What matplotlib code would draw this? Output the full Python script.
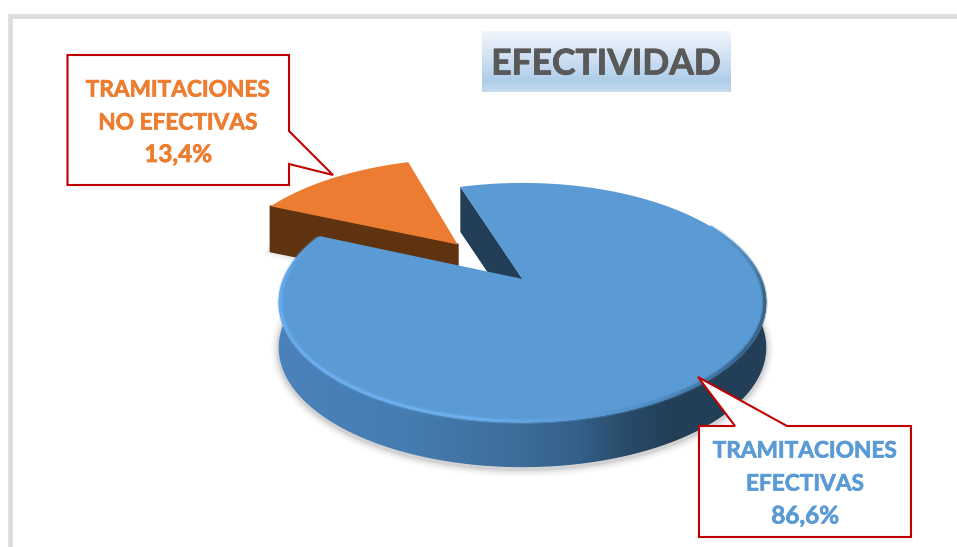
import numpy as np
import matplotlib
matplotlib.use('Agg')
import matplotlib.pyplot as plt
import matplotlib.patheffects as pe
from matplotlib.collections import LineCollection
from matplotlib.colors import LinearSegmentedColormap
from matplotlib.patches import Polygon

categories = ['TRAMITACIONES\nEFECTIVAS', 'TRAMITACIONES\nNO EFECTIVAS']
values = [86.6, 13.4]
title = 'EFECTIVIDAD'

plt.rcParams['font.family'] = ['Lato', 'DejaVu Sans']

# pie geometry, in pixels of the picture
apex_x, apex_y = 522.5, 279
size_x, size_y = 239, 115
persp = 0.197
depth = 45
start = -18
explode = 0.43


def project(theta, r=1.0, off_u=0.0, off_v=0.0):
    # clockwise angle from the top of the circle -> perspective view
    t = np.radians(theta)
    u = r * np.sin(t) + off_u
    v = r * np.cos(t) + off_v
    w = 1 + persp * v
    return np.column_stack([apex_x + size_x * u / w, apex_y - size_y * v / w])


fig = plt.figure(figsize=(9.57, 5.47), dpi=100)
ax = fig.add_axes([0, 0, 1, 1])
ax.set_xlim(0, 957)
ax.set_ylim(547, 0)
ax.axis('off')

# grey frame of the page
ax.plot([9.5, 9.5, 957], [547, 15.5, 15.5], color='#dcdcdc', lw=3.4, solid_joinstyle='miter', zorder=1)

angles = np.cumsum([0] + [v / sum(values) * 360 for v in values]) + start
blue_a = np.linspace(angles[0], angles[1], 300)
orange_a = np.linspace(angles[1], angles[2], 60)
mid = np.radians((angles[1] + angles[2]) / 2)
off_u, off_v = explode * np.sin(mid), explode * np.cos(mid)

blue_edge = project(blue_a)
orange_edge = project(orange_a, off_u=off_u, off_v=off_v)
blue_apex = project(np.array([0.0]), r=0.0)
orange_apex = project(np.array([0.0]), r=0.0, off_u=off_u, off_v=off_v)
drop = np.array([0, depth])

# soft shadow under the pie
wall_a = np.linspace(60, 285, 200)
low_edge = project(wall_a) + drop + np.array([0, 2])
for lw, a in zip([11, 8, 5, 2.5], [0.025, 0.035, 0.05, 0.07]):
    ax.plot(low_edge[:, 0], low_edge[:, 1], color='black', alpha=a, lw=lw, zorder=2)
orange_low = np.array([orange_edge[0] + drop, orange_edge[0] + drop + np.array([50, 12])])
for lw, a in zip([8, 4], [0.03, 0.05]):
    ax.plot(orange_low[:, 0], orange_low[:, 1], color='black', alpha=a, lw=lw, zorder=2)

# orange slice
orange_wall = np.vstack([orange_edge[0], orange_apex, orange_apex + drop, orange_edge[0] + drop])
ax.add_patch(Polygon(orange_wall, closed=True, fc='#5f3210', ec='#5f3210', lw=1.5, joinstyle='round', zorder=3))
ax.add_patch(Polygon(np.vstack([orange_apex, orange_edge]), closed=True, fc='#eb7c31', ec='none', zorder=4))

# blue slice, cut side then the rounded side with its gradient
blue_cut = np.vstack([blue_edge[0], blue_apex, blue_apex + drop, blue_edge[0] + drop])
ax.add_patch(Polygon(blue_cut, closed=True, fc='#223f57', ec='none', zorder=5))

top_arc = project(wall_a)
wall_poly = Polygon(np.vstack([top_arc, (top_arc + drop)[::-1]]), closed=True, fc='none', ec='none',
                    transform=ax.transData)
ax.add_patch(wall_poly)
wall_cmap = LinearSegmentedColormap.from_list('wall', [
    (0.0, '#4b82bb'), (0.25, '#467db2'), (0.5, '#3d6c98'),
    (0.62, '#335f88'), (0.7, '#2a4d6c'), (0.8, '#223f57'), (1.0, '#223f57')])
grad = np.linspace(0, 1, 256).reshape(1, -1)
im = ax.imshow(grad, cmap=wall_cmap, extent=[278, 767, 480, 170], aspect='auto', zorder=6)
im.set_clip_path(wall_poly)

ax.add_patch(Polygon(np.vstack([blue_apex, blue_edge]), closed=True, fc='#5b9bd5', ec='none', zorder=7))

# bevel along the rim, a wide faint pass then a narrow one
rim_a = np.linspace(60, angles[1] - 1, 260)
rim = project(rim_a, r=0.994)
segs = np.stack([rim[:-1], rim[1:]], axis=1)
rim_cmap = LinearSegmentedColormap.from_list('rim', [
    (0.0, '#5b9bd5'), (0.08, '#4f86b8'), (0.16, '#38607f'), (0.28, '#35608a'), (0.4, '#4f8cc4'),
    (0.56, '#6db0f0'), (0.88, '#68acee'), (1.0, '#5b9bd5')])
for lw, a in [(4.0, 0.35), (2.0, 1.0)]:
    lc = LineCollection(segs, cmap=rim_cmap, lw=lw, alpha=a, zorder=8)
    lc.set_array(np.linspace(0, 1, len(segs)))
    ax.add_collection(lc)

# title with its gradient box
title_cmap = LinearSegmentedColormap.from_list('title', [
    (0.0, '#f1f6fc'), (0.45, '#cfe0f2'), (0.82, '#aecde9'), (1.0, '#c6dbef')])
ax.imshow(np.linspace(0, 1, 128).reshape(-1, 1), cmap=title_cmap, extent=[482, 731, 92, 31],
          aspect='auto', zorder=9)
ax.set_xlim(0, 957)
ax.set_ylim(547, 0)
ax.text(606, 64.5, title, color='#595959', fontsize=25.5, fontweight='bold', ha='center', va='center', zorder=10,
        path_effects=[pe.withStroke(linewidth=0.6, foreground='#595959')])

# callouts
box_orange = [(67.5, 55), (289, 55), (289, 131), (333, 175), (289, 164), (289, 185), (67.5, 185)]
box_blue = [(699, 426), (735, 426), (698, 377), (787, 426), (911, 426), (911, 537), (699, 537)]
for pts in [box_orange, box_blue]:
    ax.add_patch(Polygon(pts, closed=True, fc='white', ec='#c00000', lw=1.5, joinstyle='miter', zorder=11))


def pct(v):
    return f'{v:.1f}'.replace('.', ',') + '%'


def label(x, ys, name, value, color):
    lines = name.split('\n')
    for y, s in zip(ys, lines):
        ax.text(x, y, s, color=color, fontsize=16.3, fontweight='bold', ha='center', va='center', zorder=12,
                path_effects=[pe.withStroke(linewidth=0.5, foreground=color)])
    ax.text(x, ys[2], pct(value), color=color, fontsize=17.5, fontweight='bold', ha='center', va='center', zorder=12,
            path_effects=[pe.withStroke(linewidth=0.5, foreground=color)])


label(805, [451, 484, 516], categories[0], values[0], '#5b9bd5')
label(178, [90, 123, 154.5], categories[1], values[1], '#ed7d31')

fig.savefig('out.png', dpi=100)
